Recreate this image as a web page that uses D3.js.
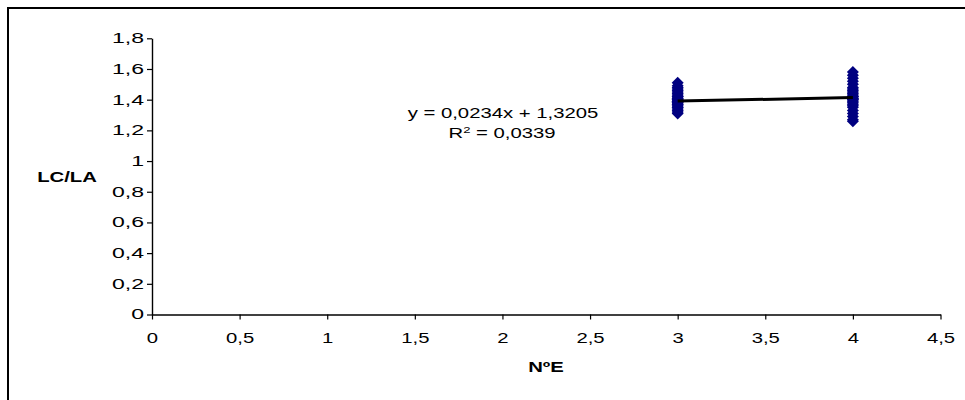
<!DOCTYPE html>
<html>
<head>
<meta charset="utf-8">
<script src="https://cdn.jsdelivr.net/npm/d3@7"></script>
<style>
  body { margin: 0; background: #fff; }
  svg { display: block; font-family: "Liberation Sans", Arial, sans-serif; }
</style>
</head>
<body>
<svg></svg>
<script>
// values
var xTicks = [0, 0.5, 1, 1.5, 2, 2.5, 3, 3.5, 4, 4.5]
var yTicks = [0, 0.2, 0.4, 0.6, 0.8, 1, 1.2, 1.4, 1.6, 1.8]

var valuesAt3 = [1.31, 1.32, 1.33, 1.34, 1.35, 1.35, 1.36, 1.37, 1.37, 1.38, 1.38, 1.39, 1.39, 1.39,
                 1.40, 1.40, 1.41, 1.41, 1.42, 1.42, 1.43, 1.44, 1.45, 1.46, 1.47, 1.48, 1.49, 1.51]
var valuesAt4 = [1.26, 1.27, 1.29, 1.31, 1.33, 1.35, 1.36, 1.37, 1.38, 1.39, 1.40, 1.40, 1.41, 1.41,
                 1.42, 1.42, 1.43, 1.44, 1.45, 1.46, 1.47, 1.48, 1.50, 1.52, 1.54, 1.56, 1.58]

var slope = 0.0234
var intercept = 1.3205
var rSquared = 0.0339

var points = []
valuesAt3.forEach(v => points.push({x: 3, y: v}))
valuesAt4.forEach(v => points.push({x: 4, y: v}))

var dimensions = { width: 965, height: 400 }
var stretch = 1.45   // text in the picture is wider than normal
var comma = d => (+d.toFixed(4)).toString().replace(".", ",")

var svg = d3.select("svg")
            .attr("width", dimensions.width)
            .attr("height", dimensions.height)

// outer chart border
svg.append("rect")
   .attr("x", 8).attr("y", 8)
   .attr("width", 980).attr("height", 420)
   .attr("fill", "none")
   .attr("stroke", "#000")
   .attr("stroke-width", 2)

var xScale = d3.scaleLinear().domain([0, 4.5]).range([152, 940.5])
var yScale = d3.scaleLinear().domain([0, 1.8]).range([314.5, 38.3])

var xAxis = svg.append("g")
               .attr("transform", "translate(0," + yScale(0) + ")")
               .call(d3.axisBottom(xScale).tickValues(xTicks).tickFormat(comma).tickSize(5).tickPadding(14).tickSizeOuter(0))
var yAxis = svg.append("g")
               .attr("transform", "translate(" + xScale(0) + ",0)")
               .call(d3.axisLeft(yScale).tickValues(yTicks).tickFormat(comma).tickSize(5).tickPadding(3).tickSizeOuter(0))

function styleAxis(ax, sx) {
    ax.attr("font-family", null).attr("font-size", null)
    ax.select(".domain").attr("stroke", "#000").attr("stroke-width", 1.4)
    ax.selectAll(".tick line").attr("stroke", "#000").attr("stroke-width", 1.2)
    ax.selectAll(".tick text")
      .attr("fill", "#000")
      .style("font-size", "14px")
      .attr("x", function() { return (+d3.select(this).attr("x") || 0) / sx })
      .attr("transform", "scale(" + sx + ",1)")
}
styleAxis(xAxis, stretch)
styleAxis(yAxis, 1.65)

// markers
var half = 6
var diamond = "M0," + (-half) + "L" + half + ",0L0," + half + "L" + (-half) + ",0Z"
svg.append("g")
   .selectAll("path")
   .data(points)
   .enter()
   .append("path")
   .attr("d", diamond)
   .attr("transform", d => "translate(" + xScale(d.x) + "," + yScale(d.y) + ")")
   .attr("fill", "#000080")

// trend line
var xExtent = d3.extent(points, d => d.x)
svg.append("line")
   .attr("x1", xScale(xExtent[0])).attr("y1", yScale(slope * xExtent[0] + intercept))
   .attr("x2", xScale(xExtent[1])).attr("y2", yScale(slope * xExtent[1] + intercept))
   .attr("stroke", "#000")
   .attr("stroke-width", 3)

function label(x, y, bold) {
    return svg.append("text")
              .attr("transform", "translate(" + x + "," + y + ") scale(" + stretch + ",1)")
              .attr("text-anchor", "middle")
              .style("font-size", "14px")
              .style("font-weight", bold ? "bold" : "normal")
}

label(503, 118).text("y = " + comma(slope) + "x + " + comma(intercept))
var r2 = label(502, 138)
r2.append("tspan").text("R")
r2.append("tspan").attr("dy", -5).style("font-size", "9px").text("2")
r2.append("tspan").attr("dy", 5).text(" = " + comma(rSquared))

label(67, 182, true).text("LC/LA")
label(546, 372, true).text("NºE")
</script>
</body>
</html>
